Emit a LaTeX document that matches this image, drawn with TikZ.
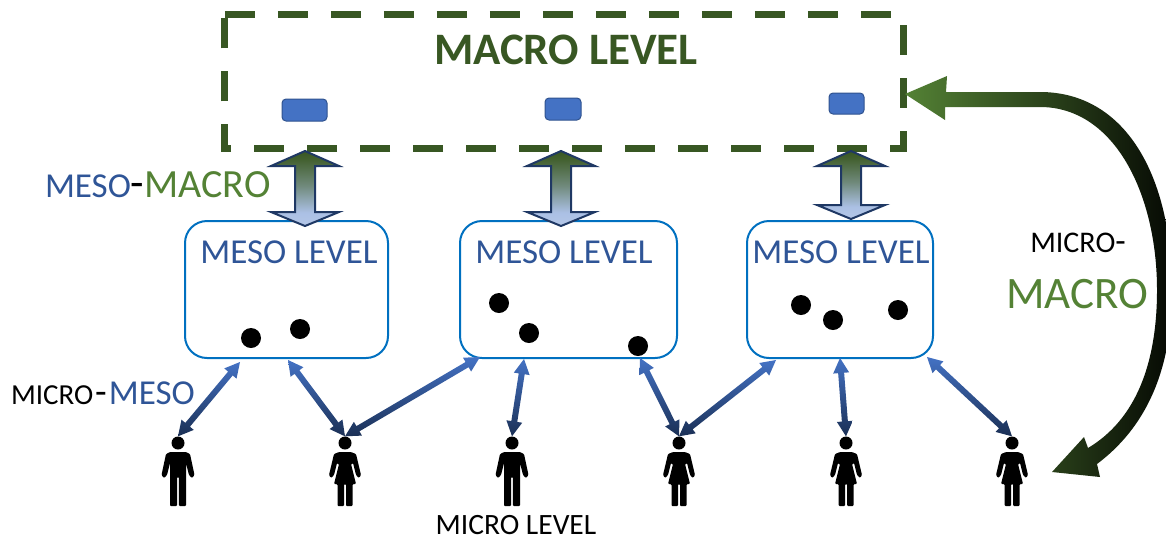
\documentclass[tikz,border=0pt]{standalone}
\usepackage{fontspec}
\setmainfont{Carlito}
\usetikzlibrary{calc}
\definecolor{macrogreen}{HTML}{385723}
\definecolor{brightgreen}{HTML}{548235}
\definecolor{mesoblue}{HTML}{2F5597}
\definecolor{boxblue}{HTML}{0070C0}
\definecolor{rectblue}{HTML}{4472C4}
\definecolor{rectedge}{HTML}{2F528F}
\definecolor{navy}{HTML}{1F3864}
\definecolor{paleblue}{HTML}{B4C7E7}
\pgfdeclareverticalshading{blockgrad}{100bp}{color(0bp)=(paleblue); color(25bp)=(paleblue); color(34bp)=(paleblue!92!rectblue); color(52bp)=(paleblue!45!macrogreen); color(70bp)=(macrogreen!95!white); color(75bp)=(macrogreen); color(100bp)=(macrogreen)}
\tikzset{
  txt/.style={inner sep=0pt,outer sep=0pt,anchor=center},
  mesobox/.style={draw=boxblue,line width=2pt,rounded corners=22pt,inner sep=0pt,minimum height=137pt},
  macrobox/.style={inner sep=0pt,minimum width=678pt,minimum height=133pt},
  macroline/.style={draw=macrogreen,line width=7pt,dash pattern=on 30pt off 23pt},
  minirect/.style={draw=rectedge,line width=1pt,fill=rectblue,rounded corners=4pt,inner sep=0pt},
  dot/.style={circle,fill=black,inner sep=0pt,minimum size=20pt},
  headnode/.style={circle,fill=black,inner sep=0pt,minimum size=13pt},
  linkfill/.style={top color=rectblue,bottom color=navy!85!black},
  blockfill/.style={draw=navy,line width=2pt,line join=miter,shading=blockgrad,shading angle=0},
  man/.pic={\fill[black,rounded corners=1pt] (-8,9)--(8,9)--(12,11)--(16.5,32)--(14,35)--(11,32)--(8,20)--(8,63)--(0.8,63)--(0.8,34)--(-0.8,34)--(-0.8,63)--(-8,63)--(-8,20)--(-11,32)--(-14,35)--(-16.5,32)--(-12,11)--cycle;},
  woman/.pic={\fill[black,rounded corners=1pt] (-6,9)--(6,9)--(11,11)--(16,32)--(14,35)--(11,32)--(8,20)--(6,21)--(11,41)--(7.5,41)--(7.5,63)--(1,63)--(1,41)--(-1,41)--(-1,63)--(-7.5,63)--(-7.5,41)--(-11,41)--(-6,21)--(-8,20)--(-11,32)--(-14,35)--(-16,32)--(-11,11)--cycle;}
}
\newcommand{\biarrow}[2]{%
  \path[linkfill] (#1)
   -- ($(#1)!15pt!(#2)!8pt!90:(#2)$) -- ($(#1)!15pt!(#2)!3pt!90:(#2)$)
   -- ($(#2)!15pt!(#1)!3pt!-90:(#1)$) -- ($(#2)!15pt!(#1)!8pt!-90:(#1)$)
   -- (#2)
   -- ($(#2)!15pt!(#1)!8pt!90:(#1)$) -- ($(#2)!15pt!(#1)!3pt!90:(#1)$)
   -- ($(#1)!15pt!(#2)!3pt!-90:(#2)$) -- ($(#1)!15pt!(#2)!8pt!-90:(#2)$) -- cycle;}
\newcommand{\blockarrow}[3]{% x, top y, bottom y
  \path[blockfill] (#1,#2) -- (#1+34,#2+15) -- (#1+10,#2+15) -- (#1+10,#3-14) -- (#1+34,#3-14) -- (#1,#3)
   -- (#1-34,#3-14) -- (#1-10,#3-14) -- (#1-10,#2+15) -- (#1-34,#2+15) -- cycle;}
\begin{document}
\begin{tikzpicture}[x=1pt,y=-1pt]
\useasboundingbox (0,0) rectangle (1166,542);
% macro level
\node[macrobox] (macro) at (564,81.5) {};
\draw[macroline] (macro.north west) -- (macro.north east) -- (macro.south east) -- (macro.south west) -- cycle;
\node[txt,font=\fontsize{45}{48}\selectfont\bfseries,text=macrogreen] (macrolabel) at (566,50) {MACRO LEVEL};
\node[minirect,minimum width=45pt,minimum height=22pt] (r1) at (304.5,110) {};
\node[minirect,minimum width=36pt,minimum height=22pt] (r2) at (563,109) {};
\node[minirect,minimum width=35pt,minimum height=21pt] (r3) at (846.5,103.5) {};
% meso level
\node[mesobox,minimum width=203pt] (m1) at (286.5,289.5) {};
\node[mesobox,minimum width=217pt] (m2) at (568.5,289.5) {};
\node[mesobox,minimum width=186pt] (m3) at (840,289.5) {};
\foreach \n/\x in {l1/289,l2/564,l3/841}
  \node[txt,font=\fontsize{35}{38}\selectfont,text=mesoblue] (\n) at (\x,252) {MESO LEVEL};
% block arrows
\blockarrow{305}{151}{226}
\blockarrow{561}{151}{226}
\blockarrow{851}{151}{219}
% dots
\foreach \n/\x/\y in {d1/251/338,d2/300/329,d3/499/303,d4/529/333,d5/638/346,d6/801/305,d7/833/320,d8/898/310}
  \node[dot] (\n) at (\x,\y) {};
% people
\foreach \n/\x/\k in {p1/178/man,p2/345/woman,p3/512/man,p4/679/woman,p5/846/woman,p6/1012/woman}{
  \node[headnode] (\n) at (\x,443) {};
  \pic at (\n) {\k};
}
% link ends on the meso boxes
\coordinate (a1) at (240,362);
\coordinate (a2) at (288,360);
\coordinate (a3) at (480,357);
\coordinate (a4) at (524,359);
\coordinate (a5) at (640,358);
\coordinate (a6) at (776,360);
\coordinate (a7) at (840,358);
\coordinate (a8) at (927,357);
\biarrow{a1}{p1.north}
\biarrow{a2}{p2.north}
\biarrow{a3}{p2.north}
\biarrow{a4}{p3.north}
\biarrow{a5}{p4.north}
\biarrow{a6}{p4.north}
\biarrow{a7}{p5.north}
\biarrow{a8}{p6.north}
% big curved arrow
\path[left color=brightgreen,right color=black!90!macrogreen]
  (905,94) -- (947,76) -- (946,92) -- (1040,92)
  .. controls (1125,92) and (1172,175) .. (1172,290)
  .. controls (1172,372) and (1145,428) .. (1097,464)
  -- (1100,477) -- (1052,472) -- (1084,437) -- (1088,448)
  .. controls (1135,420) and (1157,365) .. (1157,290)
  .. controls (1157,195) and (1115,107) .. (1040,107)
  -- (945,107) -- (945,120) -- cycle;
% labels
\node[txt,anchor=west] (mm) at (45,185) {\fontsize{35}{38}\selectfont\textcolor{mesoblue}{MESO}\textcolor{black}{\fontsize{44}{46}\selectfont -}\fontsize{40}{42}\selectfont\textcolor{brightgreen}{MACRO}};
\node[txt,anchor=west] (mi) at (11,393) {\fontsize{29}{31}\selectfont\textcolor{black}{MICRO\hspace{2pt}\fontsize{38}{40}\selectfont -}\hspace{2pt}\fontsize{35}{37}\selectfont\textcolor{mesoblue}{MESO}};
\node[txt] (mc1) at (1078,243) {\fontsize{30}{32}\selectfont MICRO\fontsize{34}{36}\selectfont -};
\node[txt,font=\fontsize{45}{48}\selectfont,text=brightgreen] (mc2) at (1077,294) {MACRO};
\node[txt,font=\fontsize{29.5}{31}\selectfont,anchor=base] (micro) at (516,534) {MICRO LEVEL};
\end{tikzpicture}
\end{document}
